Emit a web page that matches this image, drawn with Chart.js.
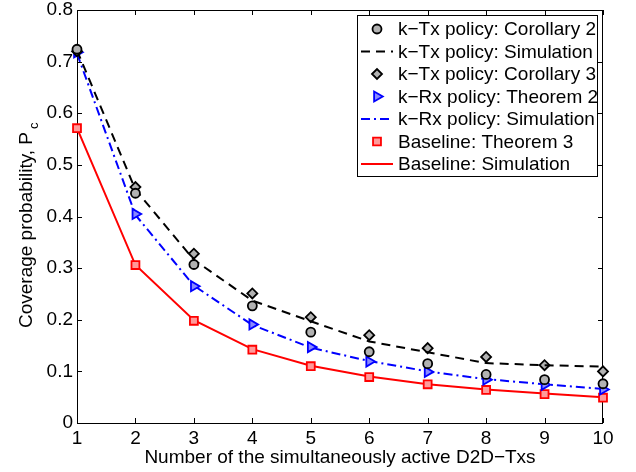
<!DOCTYPE html>
<html>
<head>
<meta charset="utf-8">
<script src="https://cdn.jsdelivr.net/npm/chart.js@4.4.0/dist/chart.umd.min.js"></script>
<style>
  html, body { margin: 0; padding: 0; background: #fff; }
  #wrap { width: 636px; height: 472px; }
</style>
</head>
<body>
<div id="wrap"><canvas id="chart" width="636" height="472"></canvas></div>
<script>
// number of simultaneously active D2D transmitters
const kValues = [1, 2, 3, 4, 5, 6, 7, 8, 9, 10];

// coverage probability per policy
const txCorollary2 = [0.724, 0.445, 0.307, 0.227, 0.176, 0.138, 0.115, 0.094, 0.084, 0.076];
const txSimulation = [0.722, 0.452, 0.316, 0.237, 0.197, 0.158, 0.137, 0.116, 0.112, 0.109];
const txCorollary3 = [0.720, 0.457, 0.328, 0.251, 0.205, 0.170, 0.145, 0.128, 0.112, 0.100];
const rxTheorem2   = [0.718, 0.405, 0.265, 0.191, 0.147, 0.119, 0.099, 0.084, 0.074, 0.065];
const rxSimulation = [0.716, 0.403, 0.266, 0.190, 0.146, 0.120, 0.100, 0.085, 0.075, 0.066];
const baseTheorem3 = [0.571, 0.306, 0.198, 0.142, 0.110, 0.089, 0.075, 0.064, 0.056, 0.049];
const baseSimulation = [0.571, 0.306, 0.199, 0.143, 0.111, 0.090, 0.075, 0.065, 0.057, 0.050];

const yTicks = [0, 0.1, 0.2, 0.3, 0.4, 0.5, 0.6, 0.7, 0.8];

const FONT = '"Liberation Sans", Arial, Helvetica, sans-serif';
const xTitle = 'Number of the simultaneously active D2D\u2212Txs';
const yTitle = 'Coverage probability, P';
const yTitleSub = 'c';

function toPoints(values) {
  return values.map((v, i) => ({ x: kValues[i], y: v }));
}

function markerSet(label, values, style, color, fill, radius, rotation) {
  return {
    label,
    data: toPoints(values),
    showLine: false,
    pointStyle: style,
    pointRotation: rotation || 0,
    pointRadius: radius,
    pointBorderWidth: 1.8,
    pointBorderColor: color,
    pointBackgroundColor: fill,
    borderColor: color,
    clip: false
  };
}

function lineSet(label, values, color, dash) {
  return {
    label,
    data: toPoints(values),
    showLine: true,
    borderColor: color,
    borderWidth: 2,
    borderDash: dash,
    pointRadius: 0,
    tension: 0,
    fill: false,
    clip: false
  };
}

const datasets = [
  markerSet('k\u2212Tx policy: Corollary 2', txCorollary2, 'circle', '#000000', '#b2b2b2', 4.5),
  lineSet('k\u2212Tx policy: Simulation', txSimulation, '#000000', [9, 6]),
  markerSet('k\u2212Tx policy: Corollary 3', txCorollary3, 'rectRot', '#000000', '#b2b2b2', 5),
  markerSet('k\u2212Rx policy: Theorem 2', rxTheorem2, 'triangle', '#0000ff', '#8a8aff', 5.8, 90),
  lineSet('k\u2212Rx policy: Simulation', rxSimulation, '#0000ff', [9, 4, 2, 4]),
  markerSet('Baseline: Theorem 3', baseTheorem3, 'rect', '#ff0000', '#ff9a9a', 5.6),
  lineSet('Baseline: Simulation', baseSimulation, '#ff0000', [])
];

// box outline with inward tick marks on all four sides
const framePlugin = {
  id: 'frame',
  beforeDatasetsDraw(chart) {
    const { ctx, chartArea: a, scales } = chart;
    ctx.save();
    ctx.strokeStyle = '#000';
    ctx.lineWidth = 1;
    ctx.strokeRect(a.left + 0.5, a.top + 0.5, a.right - a.left - 1, a.bottom - a.top);
    const len = 5;
    ctx.beginPath();
    kValues.forEach((k) => {
      const x = Math.round(scales.x.getPixelForValue(k)) + 0.5;
      ctx.moveTo(x, a.bottom); ctx.lineTo(x, a.bottom - len);
      ctx.moveTo(x, a.top); ctx.lineTo(x, a.top + len);
    });
    yTicks.forEach((v) => {
      const y = Math.round(scales.y.getPixelForValue(v)) + 0.5;
      ctx.moveTo(a.left, y); ctx.lineTo(a.left + len, y);
      ctx.moveTo(a.right, y); ctx.lineTo(a.right - len, y);
    });
    ctx.stroke();
    ctx.restore();
  }
};

const titlesPlugin = {
  id: 'titles',
  afterDraw(chart) {
    const { ctx, chartArea: a } = chart;
    ctx.save();
    ctx.fillStyle = '#000';
    ctx.font = '19px ' + FONT;
    ctx.textAlign = 'center';
    ctx.textBaseline = 'middle';
    ctx.fillText(xTitle, (a.left + a.right) / 2, 458);

    ctx.translate(32, 230);
    ctx.rotate(-Math.PI / 2);
    ctx.textBaseline = 'alphabetic';
    ctx.fillText(yTitle, 0, 0);
    const w = ctx.measureText(yTitle).width;
    ctx.font = '13px ' + FONT;
    ctx.textAlign = 'left';
    ctx.fillText(yTitleSub, w / 2 + 3, 6);
    ctx.restore();
  }
};

const boxLegendPlugin = {
  id: 'boxLegend',
  afterDraw(chart) {
    const { ctx, chartArea: a } = chart;
    const box = { left: 357, top: a.top + 5, right: a.right - 5, bottom: 177 };
    const rowH = 22.5;
    const sampleL = box.left + 4, sampleR = box.left + 36;
    const mid = (sampleL + sampleR) / 2;
    ctx.save();
    ctx.fillStyle = '#fff';
    ctx.fillRect(box.left, box.top, box.right - box.left, box.bottom - box.top);
    ctx.strokeStyle = '#000';
    ctx.lineWidth = 1;
    ctx.strokeRect(box.left + 0.5, box.top + 0.5, box.right - box.left - 1, box.bottom - box.top - 1);

    chart.data.datasets.forEach((ds, i) => {
      const y = box.top + 14 + i * rowH;
      if (ds.showLine) {
        ctx.save();
        ctx.strokeStyle = ds.borderColor;
        ctx.lineWidth = ds.borderWidth;
        ctx.setLineDash(ds.borderDash || []);
        ctx.beginPath();
        ctx.moveTo(sampleL, y);
        ctx.lineTo(sampleR, y);
        ctx.stroke();
        ctx.restore();
      } else {
        ctx.save();
        ctx.fillStyle = ds.pointBackgroundColor;
        ctx.strokeStyle = ds.pointBorderColor;
        ctx.lineWidth = ds.pointBorderWidth;
        Chart.helpers.drawPoint(ctx, {
          pointStyle: ds.pointStyle,
          rotation: ds.pointRotation,
          radius: ds.pointRadius,
          borderWidth: ds.pointBorderWidth
        }, mid, y);
        ctx.restore();
      }
      ctx.fillStyle = '#000';
      ctx.font = '19px ' + FONT;
      ctx.textAlign = 'left';
      ctx.textBaseline = 'middle';
      ctx.fillText(ds.label, box.left + 41, y + 1);
    });
    ctx.restore();
  }
};

Chart.defaults.color = '#000';
Chart.defaults.font.family = FONT;
Chart.defaults.font.size = 19;

new Chart(document.getElementById('chart'), {
  type: 'line',
  data: { datasets },
  options: {
    responsive: false,
    devicePixelRatio: 1,
    animation: false,
    layout: { padding: { top: 10, right: 33, left: 0, bottom: 0 } },
    plugins: {
      legend: { display: false },
      tooltip: { enabled: false }
    },
    scales: {
      x: {
        type: 'linear',
        min: 1,
        max: 10,
        ticks: { stepSize: 1, padding: 4, maxRotation: 0, autoSkip: false },
        grid: { display: false, drawTicks: false },
        border: { display: false },
        afterFit(s) { s.height = 49; s.paddingLeft = 0; s.paddingRight = 0; }
      },
      y: {
        type: 'linear',
        min: 0,
        max: 0.8,
        afterBuildTicks(s) { s.ticks = yTicks.map((v) => ({ value: v })); },
        ticks: {
          padding: 4,
          callback: (v) => (v === 0 ? '0' : v.toFixed(1))
        },
        grid: { display: false, drawTicks: false },
        border: { display: false },
        afterFit(s) { s.width = 77; s.paddingTop = 0; s.paddingBottom = 0; }
      }
    }
  },
  plugins: [framePlugin, titlesPlugin, boxLegendPlugin]
});
</script>
</body>
</html>
